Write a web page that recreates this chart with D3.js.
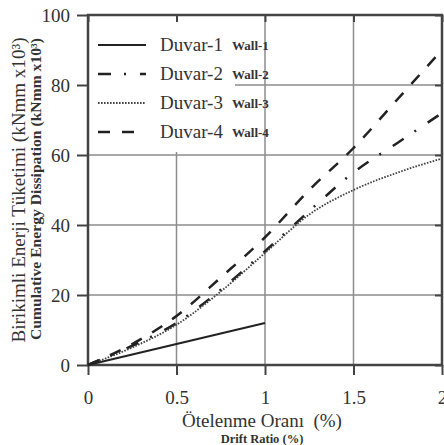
<!DOCTYPE html>
<html>
<head>
  <meta charset="utf-8">
  <script src="https://d3js.org/d3.v7.min.js"></script>
  <style>
    body { margin: 0; background: #fff; }
    text { font-family: "Liberation Serif", "Times New Roman", "DejaVu Serif", serif; fill: #333; }
  </style>
</head>
<body>
  <svg id="svg" width="444" height="445"></svg>
  <script>
    // drift ratio (%) and cumulative energy (kNmm x10^3)
    let drift = [0, 0.25, 0.5, 0.75, 1, 1.25, 1.5, 1.75, 2];
    let wall1 = [0, 3, 6, 9, 12];
    let wall2 = [0, 5.5, 12, 21.5, 32.5, 44, 55, 63.5, 72];
    let wall3 = [0, 5, 11.5, 21, 32, 43, 50, 55, 59];
    let wall4 = [0, 6, 14, 25, 36.5, 50, 62, 76, 90];
    let names = ["Duvar-1", "Duvar-2", "Duvar-3", "Duvar-4"];
    let namesEn = ["Wall-1", "Wall-2", "Wall-3", "Wall-4"];
    let xTicks = [0, 0.5, 1, 1.5, 2];
    let yTicks = [0, 20, 40, 60, 80, 100];

    let series = [wall1, wall2, wall3, wall4];
    let styles = [
      { dash: null, width: 2, color: "#222" },
      { dash: "13,13,2,14", width: 2.5, color: "#222" },
      { dash: "1.6,1.4", width: 1.8, color: "#444" },
      { dash: "12,12", width: 2.5, color: "#222" }
    ];

    let svg = d3.select("#svg");
    let pLeft = 88, pTop = 15, pRight = 442, pBottom = 365;

    let x = d3.scaleLinear().domain([0, 2]).range([pLeft, pRight]);
    let y = d3.scaleLinear().domain([0, 100]).range([pBottom, pTop]);

    // grid
    svg.selectAll(".gx").data(xTicks.slice(1, -1)).enter().append("line")
      .attr("x1", d => x(d)).attr("x2", d => x(d))
      .attr("y1", pTop).attr("y2", pBottom)
      .attr("stroke", "#8c8c8c").attr("stroke-width", 1.5);
    svg.selectAll(".gy").data(yTicks.slice(1, -1)).enter().append("line")
      .attr("x1", pLeft).attr("x2", pRight)
      .attr("y1", d => y(d)).attr("y2", d => y(d))
      .attr("stroke", "#8c8c8c").attr("stroke-width", 1.5);

    // legend background hides part of the grid
    svg.append("rect").attr("x", pLeft + 1).attr("y", pTop + 1)
      .attr("width", 146).attr("height", 136).attr("fill", "#fff");

    // axes
    let xAxis = svg.append("g").attr("transform", `translate(0,${pBottom})`)
      .call(d3.axisBottom(x).tickValues(xTicks).tickFormat(d3.format("")).tickSize(10).tickPadding(16));
    let yAxis = svg.append("g").attr("transform", `translate(${pLeft},0)`)
      .call(d3.axisLeft(y).tickValues(yTicks).tickSize(11).tickPadding(7));
    svg.append("g").attr("transform", `translate(0,${pTop})`)
      .call(d3.axisBottom(x).tickValues(xTicks).tickSize(7).tickFormat(""));
    svg.append("g").attr("transform", `translate(${pRight},0)`)
      .call(d3.axisRight(y).tickValues(yTicks).tickSize(-7).tickFormat(""));
    svg.selectAll(".domain").remove();
    svg.selectAll(".tick line").attr("stroke", "#444").attr("stroke-width", 2);
    svg.selectAll(".tick text").style("font-size", "19px")
      .style("font-family", "Liberation Serif").attr("fill", "#333");
    yAxis.selectAll(".tick text").attr("dy", "0.34em");

    // frame
    svg.append("rect").attr("x", pLeft).attr("y", pTop)
      .attr("width", pRight - pLeft).attr("height", pBottom - pTop)
      .attr("fill", "none").attr("stroke", "#444").attr("stroke-width", 2.5);

    // lines
    let line = d3.line()
      .x((d, i) => x(drift[i]))
      .y(d => y(d))
      .curve(d3.curveMonotoneX);
    series.forEach((s, i) => {
      svg.append("path").datum(s).attr("d", line)
        .attr("fill", "none")
        .attr("stroke", styles[i].color)
        .attr("stroke-width", styles[i].width)
        .attr("stroke-dasharray", styles[i].dash);
    });

    // legend
    let rowsY = [45, 74, 103, 132];
    names.forEach((n, i) => {
      svg.append("line").attr("x1", 98).attr("x2", 146)
        .attr("y1", rowsY[i]).attr("y2", rowsY[i])
        .attr("stroke", styles[i].color)
        .attr("stroke-width", styles[i].width)
        .attr("stroke-dasharray", styles[i].dash);
      svg.append("text").attr("x", 160).attr("y", rowsY[i] + 6)
        .style("font-size", "19px").text(n);
      svg.append("text").attr("x", 232).attr("y", rowsY[i] + 5)
        .style("font-size", "13px").style("font-weight", "bold").attr("fill", "#222").text(namesEn[i]);
    });

    // axis titles
    svg.append("text").attr("x", 262).attr("y", 427).attr("text-anchor", "middle")
      .style("font-size", "19px").style("white-space", "pre").text("Ötelenme Oranı  (%)");
    svg.append("text").attr("x", 262).attr("y", 443).attr("text-anchor", "middle")
      .style("font-size", "12.5px").style("font-weight", "bold").attr("fill", "#222").text("Drift Ratio (%)");

    svg.append("text").attr("transform", "translate(25,190) rotate(-90)")
      .attr("text-anchor", "middle").style("font-size", "19px")
      .attr("textLength", 305).attr("lengthAdjust", "spacingAndGlyphs")
      .text("Birikimli Enerji Tüketimi (kNmm x10³)");
    svg.append("text").attr("transform", "translate(41,189) rotate(-90)")
      .attr("text-anchor", "middle").style("font-size", "14px").style("font-weight", "bold")
      .attr("fill", "#222")
      .attr("textLength", 302).attr("lengthAdjust", "spacingAndGlyphs")
      .text("Cumulative Energy Dissipation (kNmm x10³)");
  </script>
</body>
</html>
